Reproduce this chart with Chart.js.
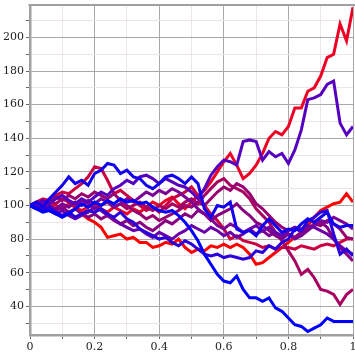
<!DOCTYPE html>
<html>
<head>
<meta charset="utf-8">
<script src="https://cdn.jsdelivr.net/npm/chart.js@4.4.1/dist/chart.umd.min.js"></script>
<style>
  html, body { margin: 0; padding: 0; background: #fff; }
  #wrap { width: 355px; height: 355px; position: relative; }
</style>
</head>
<body>
<div id="wrap"><canvas id="chart"></canvas></div>
<script>
// time steps (x values)
const steps = [0, 0.02, 0.04, 0.06, 0.08, 0.1, 0.12, 0.14, 0.16, 0.18,
  0.2, 0.22, 0.24, 0.26, 0.28, 0.3, 0.32, 0.34, 0.36, 0.38,
  0.4, 0.42, 0.44, 0.46, 0.48, 0.5, 0.52, 0.54, 0.56, 0.58,
  0.6, 0.62, 0.64, 0.66, 0.68, 0.7, 0.72, 0.74, 0.76, 0.78,
  0.8, 0.82, 0.84, 0.86, 0.88, 0.9, 0.92, 0.94, 0.96, 0.98, 1];

// paths
const redHigh = [100, 101, 99, 102, 100, 98, 101, 99, 97, 99,
  101, 98, 96, 99, 97, 95, 98, 96, 99, 102,
  100, 103, 105, 101, 98, 102, 106, 109, 114, 120,
  126, 131, 124, 116, 119, 124, 131, 140, 144, 142,
  147, 158, 158, 168, 170, 177, 188, 190, 208, 198,
  218];
const redMid = [100, 98, 101, 97, 95, 94, 96, 93, 95, 92,
  90, 87, 81, 82, 83, 80, 81, 78, 78, 75,
  76, 78, 77, 80, 75, 72, 74, 73, 76, 75,
  77, 75, 77, 75, 71, 65, 66, 69, 72, 75,
  78, 81, 84, 88, 93, 97, 99, 101, 102, 107,
  102];
const crimson = [100, 102, 104, 103, 106, 108, 107, 110, 113, 117,
  123, 122, 115, 107, 109, 106, 103, 100, 97, 99,
  96, 100, 104, 106, 108, 111, 106, 100, 95, 91,
  86, 80, 82, 79, 78, 77, 75, 76, 74, 75,
  75, 74, 76, 75, 74, 76, 77, 76, 78, 80,
  80];
const magenta = [100, 99, 101, 103, 101, 104, 102, 100, 103, 101,
  98, 100, 102, 99, 101, 98, 100, 102, 99, 97,
  100, 98, 101, 99, 102, 104, 101, 106, 110, 114,
  116, 112, 110, 108, 104, 98, 94, 90, 84, 79,
  73, 67, 59, 62, 57, 50, 49, 47, 41, 47,
  50];
const plum = [100, 102, 100, 103, 105, 103, 106, 104, 107, 105,
  108, 106, 104, 107, 103, 100, 97, 95, 92, 94,
  91, 93, 95, 97, 100, 99, 102, 100, 104, 108,
  111, 109, 113, 111, 107, 101, 98, 94, 90, 87,
  85, 87, 84, 86, 89, 88, 91, 89, 86, 81,
  80];
const purple = [100, 101, 98, 100, 97, 99, 96, 98, 95, 93,
  95, 92, 94, 91, 89, 91, 88, 90, 87, 85,
  88, 91, 89, 92, 95, 93, 97, 95, 91, 94,
  96, 98, 101, 97, 94, 90, 88, 85, 82, 80,
  83, 81, 84, 86, 88, 90, 87, 80, 75, 71,
  67];
const purple2 = [100, 99, 102, 100, 98, 101, 99, 102, 100, 103,
  101, 104, 102, 99, 101, 104, 102, 105, 108, 106,
  109, 107, 110, 108, 105, 102, 98, 95, 92, 88,
  86, 89, 87, 84, 86, 83, 85, 82, 84, 81,
  83, 80, 82, 85, 88, 91, 90, 93, 91, 89,
  86];
const indigo = [100, 98, 100, 97, 95, 97, 94, 92, 94, 96,
  99, 97, 94, 92, 89, 87, 85, 86, 83, 81,
  84, 82, 80, 83, 85, 88, 86, 84, 87, 85,
  82, 84, 81, 83, 86, 88, 85, 87, 84, 82,
  85, 87, 86, 88, 87, 85, 83, 80, 76, 73,
  71];
const violet = [100, 101, 103, 101, 104, 106, 103, 101, 104, 102,
  105, 108, 106, 110, 112, 115, 113, 117, 118, 116,
  113, 116, 114, 112, 111, 108, 104, 110, 118, 123,
  127, 126, 124, 138, 139, 138, 127, 132, 129, 131,
  125, 133, 145, 163, 164, 166, 172, 174, 149, 142,
  147];
const blueViolet = [100, 99, 97, 99, 96, 94, 96, 93, 95, 97,
  96, 98, 95, 93, 96, 92, 90, 86, 84, 82,
  80, 81, 78, 76, 79, 77, 74, 71, 70, 71,
  69, 70, 69, 68, 69, 73, 72, 76, 74, 78,
  80, 86, 85, 91, 93, 96, 97, 83, 71, 74,
  70];
const blueHigh = [100, 102, 99, 104, 108, 112, 117, 113, 115, 112,
  119, 121, 125, 124, 119, 121, 117, 116, 112, 110,
  113, 117, 118, 116, 113, 117, 113, 98, 93, 100,
  99, 102, 86, 84, 85, 82, 88, 92, 88, 84,
  86, 85, 89, 92, 90, 93, 96, 89, 87, 88,
  88];
const blueLow = [100, 98, 96, 97, 95, 93, 95, 98, 101, 99,
  102, 100, 103, 101, 104, 102, 103, 101, 102, 99,
  97, 96, 97, 94, 90, 85, 79, 71, 65, 59,
  55, 54, 58, 50, 45, 45, 43, 45, 39, 37,
  33, 29, 28, 25, 27, 29, 33, 31, 31, 31,
  31];

// ticks
const xTicks = [0, 0.1, 0.2, 0.3, 0.4, 0.5, 0.6, 0.7, 0.8, 0.9, 1];
const xLabels = ["0", "", "0.2", "", "0.4", "", "0.6", "", "0.8", "", "1"];
const yTicks = [30, 40, 50, 60, 70, 80, 90, 100, 110, 120, 130, 140, 150, 160, 170, 180, 190, 200, 210];
const yLabels = ["", "40", "", "60", "", "80", "", "100", "", "120", "", "140", "", "160", "", "180", "", "200", ""];

const series = [
  { data: blueLow, color: "#0000ff" },
  { data: blueHigh, color: "#1200ee" },
  { data: blueViolet, color: "#2a00dc" },
  { data: violet, color: "#5500c0" },
  { data: indigo, color: "#6a00aa" },
  { data: purple2, color: "#7a0096" },
  { data: purple, color: "#880082" },
  { data: plum, color: "#990070" },
  { data: magenta, color: "#a80060" },
  { data: crimson, color: "#cc0040" },
  { data: redMid, color: "#ff0000" },
  { data: redHigh, color: "#ee0024" }
];

const majorGrid = "#a8a8a8";
const minorGrid = "#eee4ee";

const topFrame = {
  id: "topFrame",
  afterDraw(chart) {
    const { ctx, chartArea } = chart;
    ctx.save();
    ctx.strokeStyle = "#a0a0a0";
    ctx.lineWidth = 2;
    ctx.beginPath();
    ctx.moveTo(chartArea.left - 1.5, chartArea.top);
    ctx.lineTo(chart.width, chartArea.top);
    ctx.stroke();
    ctx.restore();
  }
};

new Chart(document.getElementById("chart"), {
  type: "line",
  data: {
    datasets: series.map(s => ({
      data: s.data.map((v, i) => ({ x: steps[i], y: v })),
      borderColor: s.color,
      borderWidth: 3,
      pointRadius: 0,
      tension: 0,
      fill: false
    }))
  },
  options: {
    responsive: true,
    maintainAspectRatio: false,
    animation: false,
    layout: { padding: { top: 5, right: 2, left: 0, bottom: 0 } },
    plugins: { legend: { display: false }, tooltip: { enabled: false } },
    scales: {
      x: {
        type: "linear",
        min: 0,
        max: 1,
        afterBuildTicks: axis => { axis.ticks = xTicks.map(v => ({ value: v })); },
        afterFit: axis => { axis.height = 20; axis.paddingLeft = 0; axis.paddingRight = 0; },
        ticks: {
          autoSkip: false,
          maxRotation: 0,
          padding: 2,
          color: "#222",
          font: { family: "DejaVu Serif", size: 11 },
          callback: (v, i) => xLabels[i]
        },
        grid: {
          tickLength: 4,
          lineWidth: 1,
          color: c => (Math.round(c.tick.value * 10) % 2 === 0 ? majorGrid : minorGrid),
          tickColor: "#666"
        },
        border: { color: "#a0a0a0", width: 2.5 }
      },
      y: {
        min: 22.9,
        max: 219.3,
        afterBuildTicks: axis => { axis.ticks = yTicks.map(v => ({ value: v })); },
        afterFit: axis => { axis.width = 30; axis.paddingTop = 0; axis.paddingBottom = 0; },
        ticks: {
          autoSkip: false,
          padding: 2,
          color: "#222",
          font: { family: "DejaVu Serif", size: 11 },
          callback: (v, i) => yLabels[i]
        },
        grid: {
          tickLength: 4,
          lineWidth: 1,
          color: c => (c.tick.value % 20 === 0 ? majorGrid : minorGrid),
          tickColor: "#666"
        },
        border: { color: "#a0a0a0", width: 2.5 }
      }
    }
  },
  plugins: [topFrame]
});
</script>
</body>
</html>
